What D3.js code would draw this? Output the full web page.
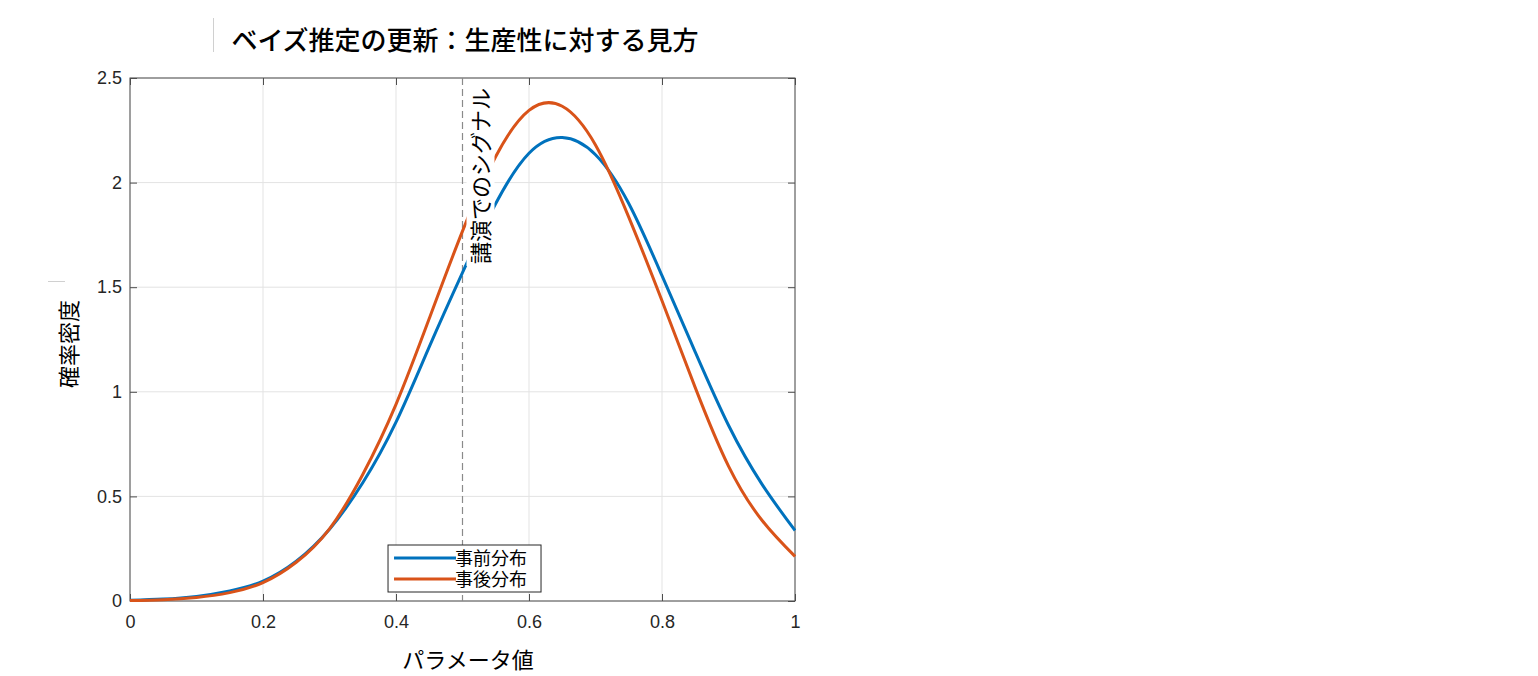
<!DOCTYPE html>
<html>
<head>
<meta charset="utf-8">
<script src="https://cdn.jsdelivr.net/npm/d3@7/dist/d3.min.js"></script>
<style>
  body { margin: 0; background: #fff; }
  text { font-family: 'Liberation Sans', Arial, sans-serif; }
  .jp { font-family: 'Noto Sans CJK JP', 'Noto Sans', sans-serif; }
</style>
</head>
<body>
<div id="chart"></div>
<script>
// values
let xValues = [0, 0.05, 0.1, 0.15, 0.2, 0.25, 0.3, 0.35, 0.4, 0.45, 0.5, 0.55, 0.6, 0.65, 0.7, 0.75, 0.8, 0.85, 0.9, 0.95, 1]
let priorValues = [0.003, 0.009, 0.022, 0.048, 0.095, 0.19, 0.343, 0.565, 0.855, 1.215, 1.57, 1.9, 2.14, 2.215, 2.133, 1.9, 1.555, 1.19, 0.84, 0.56, 0.337]
let posteriorValues = [0.002, 0.006, 0.017, 0.04, 0.088, 0.185, 0.345, 0.605, 0.94, 1.35, 1.768, 2.125, 2.345, 2.365, 2.18, 1.835, 1.435, 1.02, 0.645, 0.387, 0.213]
let xTicks = [0, 0.2, 0.4, 0.6, 0.8, 1]
let yTicks = [0, 0.5, 1, 1.5, 2, 2.5]
let seriesNames = ['事前分布', '事後分布']
let seriesColors = ['#0072BD', '#D95319']
let signalX = 0.5
let signalLabel = '講演でのシグナル'

let margin = { top: 78, left: 130, right: 743, bottom: 75 }
let width = 1538 - margin.left - margin.right
let height = 676 - margin.top - margin.bottom

let root = d3
  .select('#chart')
  .append('svg')
  .attr('width', 1538)
  .attr('height', 676)

let svg = root
  .append('g')
  .attr('transform', 'translate(' + margin.left + ',' + margin.top + ')')

let xScale = d3.scaleLinear().domain([0, 1]).range([0, width])
let yScale = d3.scaleLinear().domain([0, 2.5]).range([height, 0])

// grid
svg
  .selectAll('.xgrid')
  .data(xTicks)
  .enter()
  .append('line')
  .attr('x1', d => xScale(d))
  .attr('x2', d => xScale(d))
  .attr('y1', 0)
  .attr('y2', height)
  .attr('stroke', '#e3e3e3')
  .attr('stroke-width', 1)

svg
  .selectAll('.ygrid')
  .data(yTicks)
  .enter()
  .append('line')
  .attr('x1', 0)
  .attr('x2', width)
  .attr('y1', d => yScale(d))
  .attr('y2', d => yScale(d))
  .attr('stroke', '#e3e3e3')
  .attr('stroke-width', 1)

// axes with inward ticks on all four sides
let tickLen = 7
function styleAxis(g) {
  g.select('.domain').remove()
  g.selectAll('line').attr('stroke', '#4d4d4d')
  g.selectAll('text')
    .attr('fill', '#262626')
    .style('font-size', '18px')
}

svg
  .append('g')
  .attr('transform', 'translate(0,' + height + ')')
  .call(d3.axisBottom(xScale).tickValues(xTicks).tickSize(-tickLen).tickPadding(14).tickFormat(d3.format('~g')))
  .call(styleAxis)

svg
  .append('g')
  .call(d3.axisTop(xScale).tickValues(xTicks).tickSize(-tickLen).tickFormat(''))
  .call(styleAxis)

svg
  .append('g')
  .call(d3.axisLeft(yScale).tickValues(yTicks).tickSize(-tickLen).tickPadding(8).tickFormat(d3.format('~g')))
  .call(styleAxis)

svg
  .append('g')
  .attr('transform', 'translate(' + width + ',0)')
  .call(d3.axisRight(yScale).tickValues(yTicks).tickSize(-tickLen).tickFormat(''))
  .call(styleAxis)

svg
  .append('rect')
  .attr('width', width)
  .attr('height', height)
  .attr('fill', 'none')
  .attr('stroke', '#4d4d4d')
  .attr('stroke-width', 1)

// signal line
svg
  .append('line')
  .attr('x1', xScale(signalX))
  .attr('x2', xScale(signalX))
  .attr('y1', 0)
  .attr('y2', height)
  .attr('stroke', '#8a8a8a')
  .attr('stroke-width', 1.2)
  .attr('stroke-dasharray', '7,4')

// curves
let line = d3
  .line()
  .x((d, i) => xScale(xValues[i]))
  .y(d => yScale(d))
  .curve(d3.curveNatural)

svg
  .selectAll('.curve')
  .data([priorValues, posteriorValues])
  .enter()
  .append('path')
  .attr('class', 'curve')
  .attr('d', line)
  .attr('fill', 'none')
  .attr('stroke', (d, i) => seriesColors[i])
  .attr('stroke-width', 3)
  .attr('stroke-linejoin', 'round')

// signal label with white background
let labelG = svg
  .append('g')
  .attr('transform', 'translate(' + (xScale(signalX) + 30) + ',' + 186 + ') rotate(-90)')

labelG
  .append('rect')
  .attr('x', -2)
  .attr('y', -26)
  .attr('width', 184)
  .attr('height', 28)
  .attr('fill', '#fff')

labelG
  .append('text')
  .attr('class', 'jp')
  .attr('x', 0)
  .attr('y', -4)
  .attr('fill', '#000')
  .style('font-size', '22px')
  .text(signalLabel)

// legend
let legend = svg
  .append('g')
  .attr('transform', 'translate(' + xScale(0.388) + ',' + (height - 56) + ')')

legend
  .append('rect')
  .attr('width', 153)
  .attr('height', 47)
  .attr('fill', '#fff')
  .attr('stroke', '#262626')
  .attr('stroke-width', 1)

seriesNames.forEach((name, i) => {
  legend
    .append('line')
    .attr('x1', 6)
    .attr('x2', 68)
    .attr('y1', 13 + i * 21)
    .attr('y2', 13 + i * 21)
    .attr('stroke', seriesColors[i])
    .attr('stroke-width', 3)
  legend
    .append('text')
    .attr('class', 'jp')
    .attr('x', 67)
    .attr('y', 20 + i * 21)
    .attr('fill', '#000')
    .style('font-size', '18px')
    .text(name)
})

// labels
root
  .append('text')
  .attr('class', 'jp')
  .attr('x', 465)
  .attr('y', 50)
  .attr('text-anchor', 'middle')
  .attr('fill', '#000')
  .style('font-size', '26px')
  .style('font-weight', 500)
  .text('ベイズ推定の更新：生産性に対する見方')

root
  .append('text')
  .attr('class', 'jp')
  .attr('x', 468)
  .attr('y', 668)
  .attr('text-anchor', 'middle')
  .attr('fill', '#000')
  .style('font-size', '22px')
  .text('パラメータ値')

root
  .append('text')
  .attr('class', 'jp')
  .attr('transform', 'translate(77,344) rotate(-90)')
  .attr('text-anchor', 'middle')
  .attr('fill', '#000')
  .style('font-size', '22px')
  .text('確率密度')

// faint leftover edges seen in the picture
root.append('line')
  .attr('x1', 213.5).attr('x2', 213.5).attr('y1', 18).attr('y2', 52)
  .attr('stroke', '#d0d0d0').attr('stroke-width', 1)
root.append('line')
  .attr('x1', 48).attr('x2', 65).attr('y1', 281.5).attr('y2', 281.5)
  .attr('stroke', '#d0d0d0').attr('stroke-width', 1)
</script>
</body>
</html>
